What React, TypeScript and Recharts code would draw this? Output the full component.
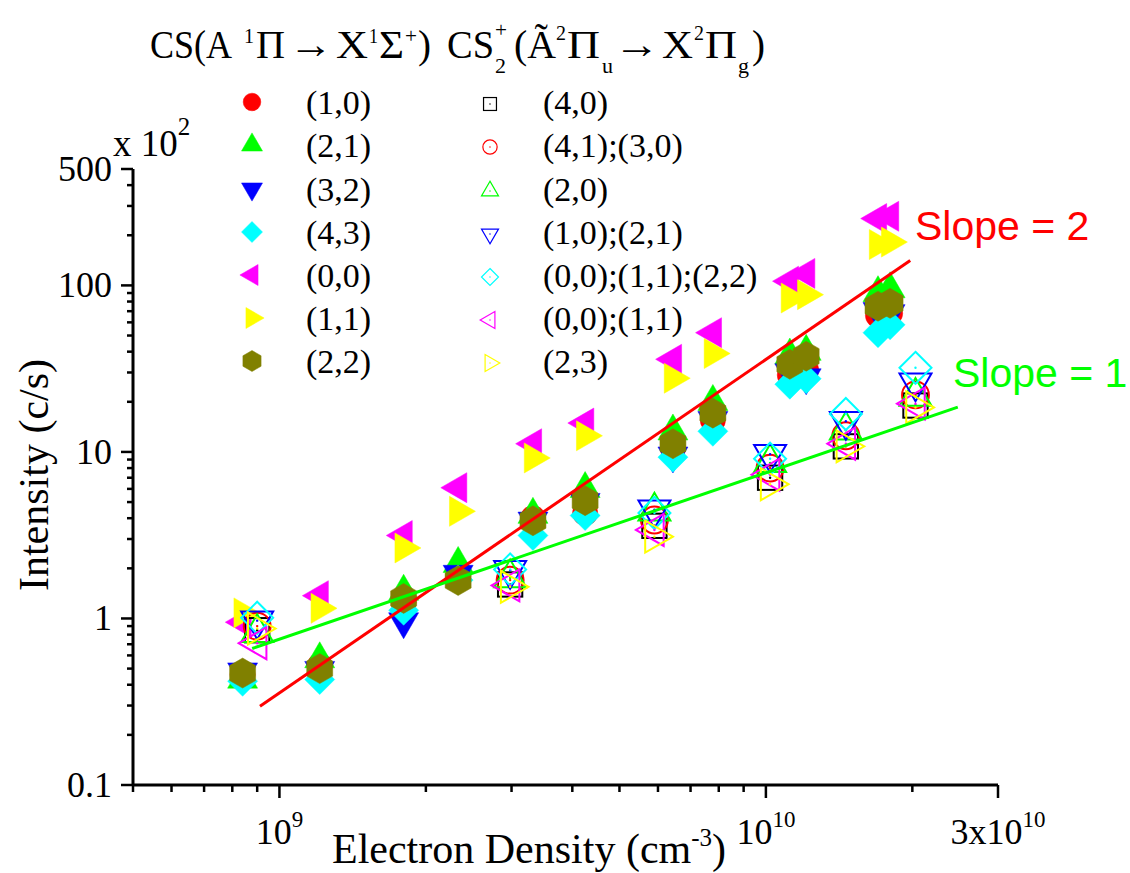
import React from "react";
import { ScatterChart, Scatter, XAxis, YAxis } from "recharts";

const SERIF = '"Liberation Serif", "Times New Roman", serif';
const SANS = '"Liberation Sans", Arial, sans-serif';

// axis ticks
const X_TICKS = [5e8, 6e8, 7e8, 8e8, 9e8, 1e9, 2e9, 3e9, 4e9, 5e9, 6e9, 7e9, 8e9, 9e9, 1e10, 2e10, 3e10];
const X_TICK_LABELS: Record<string, [string, string]> = {
  "1000000000": ["10", "9"],
  "10000000000": ["10", "10"],
  "30000000000": ["3x10", "10"],
};
const Y_TICKS = [
  0.1, 0.2, 0.3, 0.4, 0.5, 0.6, 0.7, 0.8, 0.9,
  1, 2, 3, 4, 5, 6, 7, 8, 9,
  10, 20, 30, 40, 50, 60, 70, 80, 90,
  100, 200, 300, 400, 500,
];
const Y_TICK_LABELS: Record<string, string> = { "0.1": "0.1", "1": "1", "10": "10", "100": "100", "500": "500" };

// electron density (cm^-3) for CS bands
const DENSITY_CS = [8.4e8, 1.21e9, 1.8e9, 2.33e9, 3.32e9, 4.25e9, 6.44e9, 7.78e9, 1.12e10, 1.21e10, 1.7e10, 1.8e10];
// CS(A-X) band intensities (x 10^2 c/s)
const CS_1_0 = [0.46, 0.52, 1.25, 1.8, 4.0, 4.3, 10.5, 15.5, 29, 31, 66, 68];
const CS_2_1 = [0.43, 0.57, 1.45, 2.13, 4.2, 6.0, 13.3, 20, 38, 40, 90, 95];
const CS_3_2 = [0.48, 0.49, 0.96, 1.85, 3.86, 5.0, 9.5, 15.5, 30, 28, 70, 68];
const CS_4_3 = [0.42, 0.43, 1.12, 1.7, 3.15, 4.15, 9.3, 13.3, 25.5, 27.5, 52, 58];
const CS_0_0 = [0.95, 1.37, 3.15, 6.1, 11.2, 14.9, 36, 52, 106, 118, 252, 260];
const CS_1_1 = [1.08, 1.15, 2.65, 4.4, 9.2, 12.5, 27.7, 39, 84, 88, 176, 182];
const CS_2_2 = [0.47, 0.5, 1.32, 1.69, 3.86, 5.1, 11.2, 17.1, 33.6, 37.6, 75, 78];

// electron density (cm^-3) for CS2+ bands
const DENSITY_CS2 = [9.0e8, 2.98e9, 5.9e9, 1.02e10, 1.46e10, 2.03e10];
// CS2+(A-X) band intensities (x 10^2 c/s)
const CS2_4_0 = [0.85, 1.6, 3.6, 7.0, 10.8, 19];
const CS2_41_30 = [0.9, 1.7, 3.9, 8.0, 12.5, 22];
const CS2_2_0 = [0.82, 1.75, 4.4, 8.6, 13.5, 21.5];
const CS2_10_21 = [0.97, 1.95, 4.5, 9.7, 15.3, 26];
const CS2_00_11_22 = [1.01, 1.97, 4.3, 9.1, 16.9, 32];
const CS2_00_11 = [0.71, 1.58, 3.4, 7.3, 11.2, 19.5];
const CS2_2_3 = [0.87, 1.55, 3.1, 6.4, 10.8, 18.5];

// fitted power-law lines (end points)
const SLOPE2_X = [9.12e8, 1.98e10];
const SLOPE2_Y = [0.297, 141];
const SLOPE1_X = [8.79e8, 2.48e10];
const SLOPE1_Y = [0.66, 18.6];

type Kind = "circle" | "square" | "up" | "down" | "left" | "right" | "diamond" | "hex";

const CS_SERIES: { name: string; color: string; kind: Kind; values: number[] }[] = [
  { name: "(1,0)", color: "#ff0000", kind: "circle", values: CS_1_0 },
  { name: "(2,1)", color: "#00ff00", kind: "up", values: CS_2_1 },
  { name: "(3,2)", color: "#0000ff", kind: "down", values: CS_3_2 },
  { name: "(4,3)", color: "#00ffff", kind: "diamond", values: CS_4_3 },
  { name: "(0,0)", color: "#ff00ff", kind: "left", values: CS_0_0 },
  { name: "(1,1)", color: "#ffff00", kind: "right", values: CS_1_1 },
  { name: "(2,2)", color: "#808000", kind: "hex", values: CS_2_2 },
];

const CS2_SERIES: { name: string; color: string; kind: Kind; values: number[] }[] = [
  { name: "(4,0)", color: "#000000", kind: "square", values: CS2_4_0 },
  { name: "(4,1);(3,0)", color: "#ff0000", kind: "circle", values: CS2_41_30 },
  { name: "(2,0)", color: "#00ff00", kind: "up", values: CS2_2_0 },
  { name: "(1,0);(2,1)", color: "#0000ff", kind: "down", values: CS2_10_21 },
  { name: "(0,0);(1,1);(2,2)", color: "#00ffff", kind: "diamond", values: CS2_00_11_22 },
  { name: "(0,0);(1,1)", color: "#ff00ff", kind: "left", values: CS2_00_11 },
  { name: "(2,3)", color: "#ffff00", kind: "right", values: CS2_2_3 },
];

const LEGEND_ROWS = [102, 145, 189, 232, 275, 318, 361];

const toPoints = (xs: number[], ys: number[]) => ys.map((y, i) => ({ x: xs[i], y }));

function Marker({ kind, cx, cy, size, color, filled, sw }: any) {
  const style = filled
    ? { fill: color, stroke: color, strokeWidth: 0.5 }
    : { fill: "none", stroke: color, strokeWidth: sw };
  const h = size * 0.866;
  const a = size / 2;
  let el: any;
  if (kind === "circle") el = <circle cx={cx} cy={cy} r={size * 0.42} {...style} />;
  else if (kind === "square")
    el = <rect x={cx - size * 0.38} y={cy - size * 0.38} width={size * 0.76} height={size * 0.76} {...style} />;
  else if (kind === "diamond")
    el = <polygon points={`${cx},${cy - a} ${cx + a},${cy} ${cx},${cy + a} ${cx - a},${cy}`} {...style} />;
  else if (kind === "hex") {
    const pts = [0, 1, 2, 3, 4, 5]
      .map((k) => {
        const ang = ((-90 + 60 * k) * Math.PI) / 180;
        return `${cx + a * Math.cos(ang)},${cy + a * Math.sin(ang)}`;
      })
      .join(" ");
    el = <polygon points={pts} {...style} />;
  } else {
    let pts = "";
    if (kind === "up") pts = `${cx},${cy - (2 * h) / 3} ${cx - a},${cy + h / 3} ${cx + a},${cy + h / 3}`;
    if (kind === "down") pts = `${cx},${cy + (2 * h) / 3} ${cx - a},${cy - h / 3} ${cx + a},${cy - h / 3}`;
    if (kind === "left") pts = `${cx - (2 * h) / 3},${cy} ${cx + h / 3},${cy - a} ${cx + h / 3},${cy + a}`;
    if (kind === "right") pts = `${cx + (2 * h) / 3},${cy} ${cx - h / 3},${cy - a} ${cx - h / 3},${cy + a}`;
    el = <polygon points={pts} {...style} />;
  }
  return (
    <g>
      {el}
      {!filled && <circle cx={cx} cy={cy} r={sw * 0.6} fill={color} />}
    </g>
  );
}

const renderXTick = (props: any) => {
  const { x, y, payload } = props;
  const lab = X_TICK_LABELS[String(payload.value)];
  const len = lab ? 13 : 7;
  return (
    <g>
      <line x1={x} y1={y} x2={x} y2={y + len} stroke="#000" strokeWidth={2.5} />
      {lab && (
        <text x={x} y={y + 59} textAnchor="middle" fontFamily={SERIF} fontSize={36} fill="#000">
          {lab[0]}
          <tspan dy={-17} fontSize={23}>{lab[1]}</tspan>
        </text>
      )}
    </g>
  );
};

const renderYTick = (props: any) => {
  const { x, y, payload } = props;
  const lab = Y_TICK_LABELS[String(payload.value)];
  const len = lab ? 12 : 6;
  return (
    <g>
      <line x1={x - len} y1={y} x2={x} y2={y} stroke="#000" strokeWidth={2.5} />
      {lab && (
        <text x={x - 21} y={y + 12} textAnchor="end" fontFamily={SERIF} fontSize={36} fill="#000">
          {lab}
        </text>
      )}
    </g>
  );
};

// one piece of the legend header, squeezed to the width it has in the original
const Piece = ({ x, y, w, size = 41, children }: any) => (
  <text x={x} y={y} fontSize={size} textLength={w} lengthAdjust="spacingAndGlyphs" fill="#000">
    {children}
  </text>
);

export default function App() {
  return (
    <div style={{ position: "absolute", left: 0, top: 0, width: 1130, height: 873, background: "#fff" }}>
      <ScatterChart width={1130} height={873} margin={{ top: 169, right: 132, bottom: 48, left: 73 }}>
        <XAxis
          type="number"
          dataKey="x"
          scale="log"
          domain={[5e8, 3e10]}
          allowDataOverflow
          ticks={X_TICKS}
          interval={0}
          tickLine={false}
          tickSize={0}
          tickMargin={0}
          height={40}
          axisLine={{ stroke: "#000", strokeWidth: 3 }}
          tick={renderXTick}
        />
        <YAxis
          type="number"
          dataKey="y"
          scale="log"
          domain={[0.1, 500]}
          allowDataOverflow
          ticks={Y_TICKS}
          interval={0}
          tickLine={false}
          tickSize={0}
          tickMargin={0}
          width={60}
          axisLine={{ stroke: "#000", strokeWidth: 3 }}
          tick={renderYTick}
        />
        {CS_SERIES.map((s) => (
          <Scatter
            key={"cs" + s.name}
            name={s.name}
            data={toPoints(DENSITY_CS, s.values)}
            isAnimationActive={false}
            shape={(p: any) => <Marker kind={s.kind} cx={p.cx} cy={p.cy} size={30} color={s.color} filled sw={0} />}
          />
        ))}
        {CS2_SERIES.map((s) => (
          <Scatter
            key={"cs2" + s.name}
            name={s.name}
            data={toPoints(DENSITY_CS2, s.values)}
            isAnimationActive={false}
            shape={(p: any) => (
              <Marker kind={s.kind} cx={p.cx} cy={p.cy} size={32} color={s.color} filled={false} sw={2} />
            )}
          />
        ))}
        <Scatter
          name="Slope = 2"
          data={toPoints(SLOPE2_X, SLOPE2_Y)}
          isAnimationActive={false}
          line={{ stroke: "#ff0000", strokeWidth: 3 }}
          lineType="joint"
          shape={() => <g />}
        />
        <Scatter
          name="Slope = 1"
          data={toPoints(SLOPE1_X, SLOPE1_Y)}
          isAnimationActive={false}
          line={{ stroke: "#00ff00", strokeWidth: 3 }}
          lineType="joint"
          shape={() => <g />}
        />
      </ScatterChart>

      <svg
        width={1130}
        height={873}
        style={{ position: "absolute", left: 0, top: 0, pointerEvents: "none" }}
        fontFamily={SERIF}
      >
        {/* legend header: CS(A1Π → X1Σ+) */}
        <Piece x={150} y={58} w={82}>CS(A</Piece>
        <Piece x={244} y={43} w={10} size={22}>1</Piece>
        <Piece x={256} y={58} w={29}>Π</Piece>
        <Piece x={289} y={58} w={44}>→</Piece>
        <Piece x={336} y={58} w={32}>X</Piece>
        <Piece x={369} y={43} w={9} size={22}>1</Piece>
        <Piece x={379} y={58} w={25}>Σ</Piece>
        <Piece x={405} y={43} w={12} size={22}>+</Piece>
        <Piece x={418} y={58} w={13}>)</Piece>

        {/* legend header: CS2+(Ã2Πu → X2Πg) */}
        <Piece x={447} y={58} w={47}>CS</Piece>
        <Piece x={495} y={37} w={12} size={22}>+</Piece>
        <Piece x={495} y={73} w={11} size={22}>2</Piece>
        <Piece x={514} y={58} w={42}>(Ã</Piece>
        <Piece x={556} y={40} w={10} size={22}>2</Piece>
        <Piece x={567} y={58} w={33}>Π</Piece>
        <Piece x={602} y={73} w={11} size={22}>u</Piece>
        <Piece x={614} y={58} w={46}>→</Piece>
        <Piece x={662} y={58} w={31}>X</Piece>
        <Piece x={694} y={40} w={10} size={22}>2</Piece>
        <Piece x={705} y={58} w={32}>Π</Piece>
        <Piece x={738} y={73} w={11} size={22}>g</Piece>
        <Piece x={752} y={58} w={13}>)</Piece>

        {CS_SERIES.map((s, i) => (
          <g key={"lg1" + i}>
            <Marker kind={s.kind} cx={252} cy={LEGEND_ROWS[i]} size={21} color={s.color} filled sw={0} />
            <text x={306} y={LEGEND_ROWS[i] + 12} fontSize={34} fill="#000">{s.name}</text>
          </g>
        ))}
        {CS2_SERIES.map((s, i) => (
          <g key={"lg2" + i}>
            <Marker kind={s.kind} cx={490} cy={LEGEND_ROWS[i] + 2} size={17} color={s.color} filled={false} sw={1.2} />
            <text x={543} y={LEGEND_ROWS[i] + 12} fontSize={34} fill="#000">{s.name}</text>
          </g>
        ))}

        {/* axis scale factor and titles */}
        <text x={113} y={156} fontSize={37} fill="#000">
          x 10<tspan dy={-21} fontSize={25}>2</tspan>
        </text>
        <text transform="translate(48,475) rotate(-90)" textAnchor="middle" fontSize={42} fill="#000">
          Intensity (c/s)
        </text>
        <text x={332} y={863} fontSize={42} fill="#000">
          Electron Density (cm<tspan dy={-17} fontSize={25}>-3</tspan>
          <tspan dy={17}>)</tspan>
        </text>

        {/* fit labels */}
        <text x={915} y={240} fontFamily={SANS} fontSize={41} fill="#ff0000">Slope = 2</text>
        <text x={953} y={387} fontFamily={SANS} fontSize={41} fill="#00ff00">Slope = 1</text>
      </svg>
    </div>
  );
}
